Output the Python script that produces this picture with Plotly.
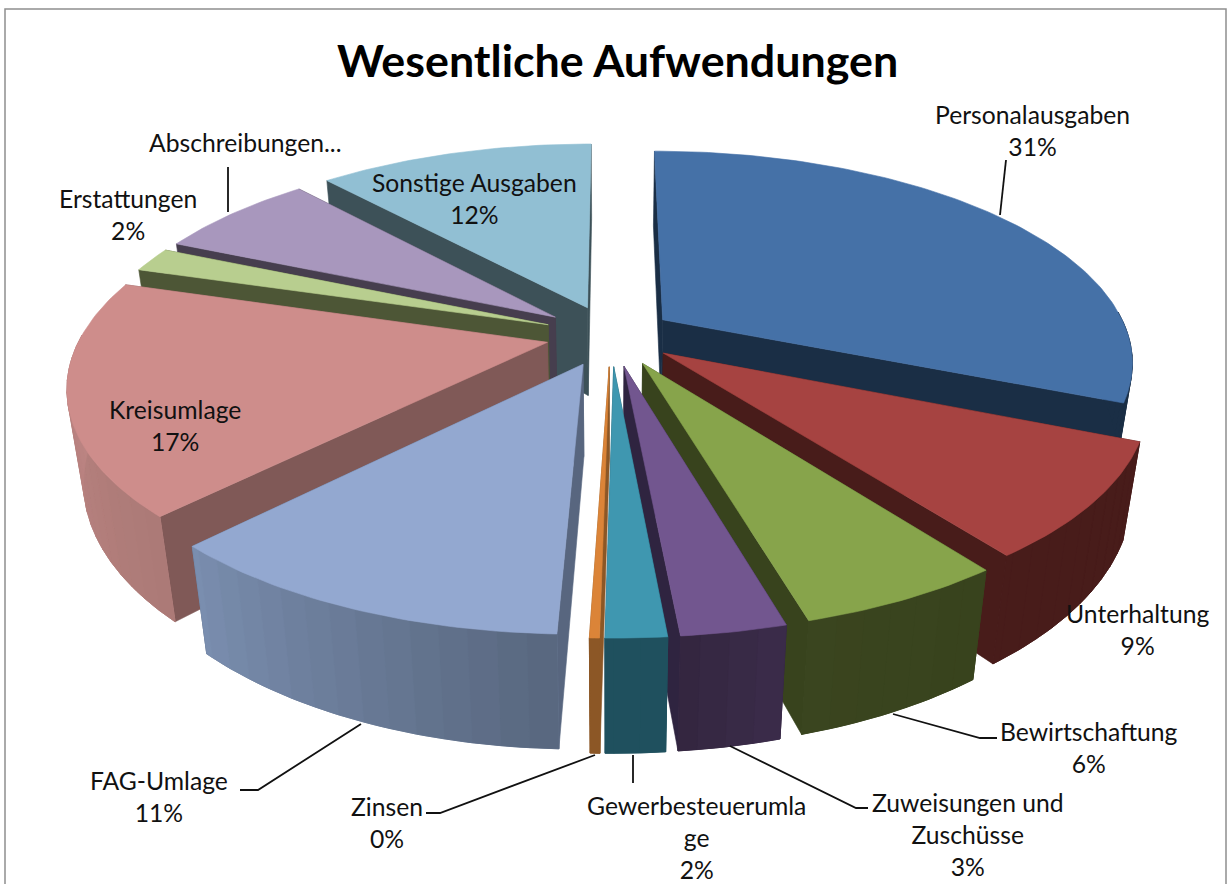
import numpy as np
import plotly.graph_objects as go

# ---- data ----
categories = ["Personalausgaben", "Unterhaltung", "Bewirtschaftung", "Zuweisungen und<br>Zuschüsse",
              "Gewerbesteuerumla<br>ge", "Zinsen", "FAG-Umlage", "Kreisumlage", "Erstattungen",
              "Abschreibungen...", "Sonstige Ausgaben"]
values = [31.3, 8.55, 5.8, 2.92, 1.68, 0.27, 11.68, 17.5, 1.9, 6.8, 11.6]
percent_labels = ["31%", "9%", "6%", "3%", "2%", "0%", "11%", "17%", "2%", "", "12%"]
explode = [0.135, 0.14, 0.15, 0.15, 0.15, 0.15, 0.15, 0.14, 0.145, 0.15, 0.145]
radius = [1, 1, 1, 1, 1, 1, 1, 1, 0.985, 0.98, 0.99]

top_colors = ["#4571A7", "#A64341", "#87A44B", "#72568F", "#3F97B0", "#DB8438",
              "#93A8D0", "#CE8D8B", "#B8CE8F", "#A897BD", "#91BFD3"]
wall_colors = ["#1A2E45", "#481C1A", "#38431D", "#2F2440", "#1D4F5C", "#8C5726",
               "#58667F", "#805957", "#4D5636", "#463E4E", "#3D5158"]
# rim colour at the clockwise start / end of each slice
rim_start = ["#1A2E45", "#481C1A", "#38431D", "#3A2B49", "#1F505E", "#8C5726",
             "#596880", "#AC7A77", "#8E9F6E", "#84769A", "#6F97A8"]
rim_end = ["#1A2E45", "#481C1A", "#3A451F", "#33263F", "#1F505E", "#8C5726",
           "#7A8EAF", "#BE8684", "#8E9F6E", "#84769A", "#6F97A8"]

# ---- layout constants of the projected pie (pixels) ----
CX, CY = 611, 335
A, B, P = 466, 206, 0.19      # horizontal radius, vertical radius, perspective
H, SHRINK = 90, 0.03          # side depth, narrowing of the bottom face
W, HT = 1227, 884


def project(x, y, bottom=False):
    x, y = np.asarray(x, float), np.asarray(y, float)
    den = 1 + P * y
    sx = CX + A * x / (den + (SHRINK if bottom else 0))
    sy = CY - B * y / den + (H / den if bottom else 0)
    return sx, sy


def hex2rgb(c):
    return np.array([int(c[i:i + 2], 16) for i in (1, 3, 5)], float)


def mix(c0, c1, t):
    v = hex2rgb(c0) * (1 - t) + hex2rgb(c1) * t
    return "rgb(%d,%d,%d)" % tuple(v.round())


def poly(fig, xs, ys, color, lw=0.6):
    fig.add_trace(go.Scatter(x=np.r_[xs, xs[0]], y=np.r_[ys, ys[0]], mode="lines", fill="toself",
                             fillcolor=color, line=dict(color=color, width=lw),
                             hoverinfo="skip", showlegend=False))


fig = go.Figure()
shares = np.array(values, float) / np.sum(values) * 360
ends = np.cumsum(shares)
starts = ends - shares
mids = np.radians((starts + ends) / 2)
order = np.argsort(-np.cos(mids))      # far slices first

for i in order:
    t = np.radians(np.linspace(starts[i], ends[i], max(int(shares[i]) + 2, 3)))
    ox, oy = explode[i] * np.sin(mids[i]), explode[i] * np.cos(mids[i])
    rx, ry = ox + radius[i] * np.sin(t), oy + radius[i] * np.cos(t)

    # two radial walls, farther one first
    walls = [(rx[0], ry[0]), (rx[-1], ry[-1])]
    walls.sort(key=lambda w: -w[1])
    for wx, wy in walls:
        tx, ty = project([ox, wx], [oy, wy])
        bx, by = project([ox, wx], [oy, wy], bottom=True)
        poly(fig, np.r_[tx, bx[::-1]], np.r_[ty, by[::-1]], wall_colors[i])

    # outer rim: only the part that faces the viewer, in shaded bands over a base
    front = np.where(np.cos(t) < 0.05)[0]
    if len(front) >= 2:
        fx, fy = rx[front], ry[front]
        tx, ty = project(fx, fy)
        bx, by = project(fx, fy, bottom=True)
        poly(fig, np.r_[tx, bx[::-1]], np.r_[ty, by[::-1]], mix(rim_start[i], rim_end[i], 0.5), lw=0.8)
        n = len(front) - 1
        band = 3
        for k in range(0, n, band):
            sx, sy = fx[k:k + band + 1], fy[k:k + band + 1]
            tx, ty = project(sx, sy)
            bx, by = project(sx, sy, bottom=True)
            poly(fig, np.r_[tx, bx[::-1]], np.r_[ty, by[::-1]],
                 mix(rim_start[i], rim_end[i], k / max(n - 1, 1)), lw=0.8)

    # top face
    tx, ty = project(np.r_[ox, rx], np.r_[oy, ry])
    poly(fig, tx, ty, top_colors[i])

# ---- labels ----
label_pos = [(1032, 115), (1137, 614), (1089, 732), (968, 803), (696, 806), (387, 807),
             (159, 781), (175, 410), (128, 199), (245, 143), (474, 183)]
annotations = []
for (lx, ly), name, pct in zip(label_pos, categories, percent_labels):
    text = name + ("<br>" + pct if pct else "")
    annotations.append(dict(x=lx, y=ly, xref="x", yref="y", text=text, showarrow=False,
                            xanchor="center", yanchor="top", yshift=17, align="center",
                            font=dict(family="Lato", size=24.7, color="#111111")))
annotations.append(dict(x=617, y=60, xref="x", yref="y", text="<b>Wesentliche Aufwendungen</b>",
                        showarrow=False, xanchor="center", yanchor="middle",
                        font=dict(family="Lato", size=44.8, color="#000000")))

leaders = [[(1000, 215), (1006, 160)],
           [(228, 212), (228, 167)],
           [(893, 714), (980, 738), (997, 738)],
           [(730, 746), (856, 808), (868, 808)],
           [(633, 755), (633, 783)],
           [(595, 755), (440, 813), (426, 813)],
           [(361, 724), (258, 790), (240, 790)]]
shapes = [dict(type="rect", x0=5, y0=9, x1=1226, y1=900, line=dict(color="#8f8f8f", width=1.5), layer="below")]
for pts in leaders:
    path = "M " + " L ".join(f"{x} {y}" for x, y in pts)
    shapes.append(dict(type="path", path=path, line=dict(color="#111111", width=1.8), layer="above"))

fig.update_layout(width=W, height=HT, margin=dict(l=0, r=0, t=0, b=0), autosize=False,
                  paper_bgcolor="white", plot_bgcolor="white", showlegend=False,
                  annotations=annotations, shapes=shapes,
                  xaxis=dict(range=[0, W], visible=False, fixedrange=True),
                  yaxis=dict(range=[HT, 0], visible=False, fixedrange=True))
fig.write_html("out.html", config=dict(displayModeBar=False),
               post_script="document.body.style.margin='0';document.body.style.overflow='hidden';")
